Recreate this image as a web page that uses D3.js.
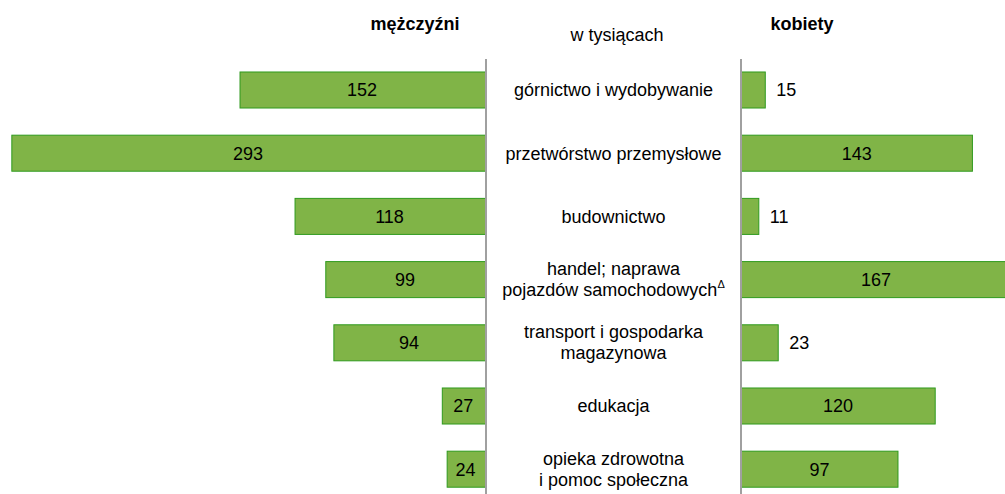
<!DOCTYPE html>
<html>
<head>
<meta charset="utf-8">
<script src="https://cdn.jsdelivr.net/npm/d3@7"></script>
<style>
  body { margin: 0; background: #fff; }
  svg { font-family: "Liberation Sans", Arial, sans-serif; }
</style>
</head>
<body>
<div id="chart"></div>
<script>
// data
const categories = [
  ["górnictwo i wydobywanie"],
  ["przetwórstwo przemysłowe"],
  ["budownictwo"],
  ["handel; naprawa", "pojazdów samochodowych"],
  ["transport i gospodarka", "magazynowa"],
  ["edukacja"],
  ["opieka zdrowotna", "i pomoc społeczna"]
];
const men = [152, 293, 118, 99, 94, 27, 24];
const women = [15, 143, 11, 167, 23, 120, 97];

const width = 1005, height = 494;
const leftAxis = 486, rightAxis = 741;
const fs = 18;

const svg = d3.select("#chart").append("svg")
    .attr("width", width)
    .attr("height", height);

// scales
const x = d3.scaleLinear().domain([0, 300]).range([0, 485.5]);
const y = d3.scaleBand()
    .domain(d3.range(categories.length))
    .range([58.4, 500.8])
    .paddingInner(0.43)
    .paddingOuter(0.215);

const fill = "#80b447", stroke = "#2f9a1e";

// left bars (men)
svg.selectAll(".men")
    .data(men)
    .join("rect")
    .attr("x", d => leftAxis - x(d))
    .attr("y", (d, i) => y(i))
    .attr("width", d => x(d))
    .attr("height", y.bandwidth())
    .attr("fill", fill)
    .attr("stroke", stroke)
    .attr("stroke-width", 1);

// right bars (women)
svg.selectAll(".women")
    .data(women)
    .join("rect")
    .attr("x", rightAxis)
    .attr("y", (d, i) => y(i))
    .attr("width", d => x(d))
    .attr("height", y.bandwidth())
    .attr("fill", fill)
    .attr("stroke", stroke)
    .attr("stroke-width", 1);

// vertical lines
[leftAxis, rightAxis].forEach(lx => {
  svg.append("line")
      .attr("x1", lx).attr("x2", lx)
      .attr("y1", 59).attr("y2", height)
      .attr("stroke", "#a0a0a0")
      .attr("stroke-width", 2);
});

// value labels
svg.selectAll(".menLabel")
    .data(men)
    .join("text")
    .attr("x", d => leftAxis - x(d) / 2 - 1)
    .attr("y", (d, i) => y(i) + y.bandwidth() / 2)
    .attr("dy", "0.35em")
    .attr("text-anchor", "middle")
    .attr("font-size", fs)
    .attr("fill", "#000")
    .text(d => d);

svg.selectAll(".womenLabel")
    .data(women)
    .join("text")
    .attr("x", d => x(d) > 45 ? rightAxis + x(d) / 2 : rightAxis + x(d) + 11)
    .attr("y", (d, i) => y(i) + y.bandwidth() / 2)
    .attr("dy", "0.35em")
    .attr("text-anchor", d => x(d) > 45 ? "middle" : "start")
    .attr("font-size", fs)
    .attr("fill", "#000")
    .text(d => d);

// category labels
const mid = (leftAxis + rightAxis) / 2;
categories.forEach((lines, i) => {
  const cy = y(i) + y.bandwidth() / 2;
  const t = svg.append("text")
      .attr("text-anchor", "middle")
      .attr("font-size", fs)
      .attr("fill", "#000");
  lines.forEach((ln, j) => {
    const off = lines.length === 1 ? 0 : (j === 0 ? -11 : 10);
    const ts = t.append("tspan")
        .attr("x", mid)
        .attr("y", cy + off)
        .attr("dy", "0.35em")
        .text(ln);
    if (i === 3 && j === 1) {
      ts.append("tspan")
          .attr("font-size", 11)
          .attr("dy", "-0.7em")
          .text("Δ");
    }
  });
});

// headers
svg.append("text")
    .attr("x", 415).attr("y", 30)
    .attr("text-anchor", "middle")
    .attr("font-size", fs)
    .attr("font-weight", "bold")
    .text("mężczyźni");
svg.append("text")
    .attr("x", 617).attr("y", 41)
    .attr("text-anchor", "middle")
    .attr("font-size", fs)
    .text("w tysiącach");
svg.append("text")
    .attr("x", 802).attr("y", 30)
    .attr("text-anchor", "middle")
    .attr("font-size", fs)
    .attr("font-weight", "bold")
    .text("kobiety");
</script>
</body>
</html>
